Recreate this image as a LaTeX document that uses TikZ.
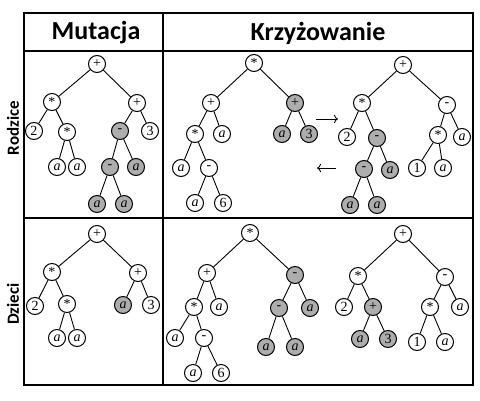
\documentclass[tikz,border=0pt]{standalone}
\usepackage{fontspec}
\setmainfont{Liberation Serif}
\newfontfamily\headfont{Carlito}
\usetikzlibrary{arrows.meta}

\tikzset{
  op/.style={circle, draw, line width=1pt, minimum size=17pt, inner sep=0pt,
    fill=white, font=\fontsize{14}{14}\selectfont},
  hl/.style={op, fill=black!32},
  head/.style={font=\headfont\bfseries\fontsize{26}{26}\selectfont},
  side/.style={font=\headfont\bfseries\fontsize{17}{17}\selectfont, rotate=90},
  grid/.style={line width=1.4pt}
}

\begin{document}
\begin{tikzpicture}[x=1pt, y=-1pt, line width=0.9pt]
   \useasboundingbox (0,0) rectangle (480,400);

   % table
   \draw[grid] (24,13) rectangle (473,385);
   \draw[grid] (24,51) -- (473,51);
   \draw[grid] (24,218) -- (473,218);
   \draw[grid] (163,13) -- (163,385);
   \node[head] (hmut) at (96,33) {Mutacja};
   \node[head] (hkrz) at (318,33) {Krzyżowanie};
   \node[side] (rrod) at (13,128) {Rodzice};
   \node[side] (rdzi) at (13,304) {Dzieci};

   % mutacja, rodzic
   \node[op] (mr1) at (97,64) {+};
   \node[op] (mr2) at (52,102) {*};
   \node[op] (mr3) at (137,103) {+};
   \node[op] (mr4) at (34,131) {2};
   \node[op] (mr5) at (67,132) {*};
   \node[hl] (mr6) at (120,131) {-};
   \node[op] (mr7) at (150,131) {3};
   \node[op] (mr8) at (57,167) {\textit{a}};
   \node[op] (mr9) at (77,167) {\textit{a}};
   \node[hl] (mr10) at (110,167) {-};
   \node[hl] (mr11) at (136,167) {\textit{a}};
   \node[hl] (mr12) at (97,204) {\textit{a}};
   \node[hl] (mr13) at (124,204) {\textit{a}};
   \draw (mr1) edge (mr2) edge (mr3);
   \draw (mr2) edge (mr4) edge (mr5);
   \draw (mr5) edge (mr8) edge (mr9);
   \draw (mr3) edge (mr6) edge (mr7);
   \draw (mr6) edge (mr10) edge (mr11);
   \draw (mr10) edge (mr12) edge (mr13);

   % krzyzowanie, rodzic 1
   \node[op] (ka1) at (254,63) {*};
   \node[op] (ka2) at (211,103) {+};
   \node[hl] (ka3) at (295,103) {+};
   \node[op] (ka4) at (195,134) {*};
   \node[op] (ka5) at (222,134) {\textit{a}};
   \node[hl] (ka6) at (282,134) {\textit{a}};
   \node[hl] (ka7) at (309,134) {3};
   \node[op] (ka8) at (181,168) {\textit{a}};
   \node[op] (ka9) at (209,168) {-};
   \node[op] (ka10) at (195,203) {\textit{a}};
   \node[op] (ka11) at (223,203) {6};
   \draw (ka1) edge (ka2) edge (ka3);
   \draw (ka2) edge (ka4) edge (ka5);
   \draw (ka3) edge (ka6) edge (ka7);
   \draw (ka4) edge (ka8) edge (ka9);
   \draw (ka9) edge (ka10) edge (ka11);

   % krzyzowanie, rodzic 2
   \node[op] (kb1) at (403,65) {+};
   \node[op] (kb2) at (362,103) {*};
   \node[op] (kb3) at (447,105) {-};
   \node[op] (kb4) at (347,137) {2};
   \node[hl] (kb5) at (377,138) {-};
   \node[op] (kb6) at (438,135) {*};
   \node[op] (kb7) at (462,137) {\textit{a}};
   \node[hl] (kb8) at (364,169) {-};
   \node[hl] (kb9) at (390,170) {\textit{a}};
   \node[op] (kb10) at (417,168) {1};
   \node[op] (kb11) at (443,168) {\textit{a}};
   \node[hl] (kb12) at (350,205) {\textit{a}};
   \node[hl] (kb13) at (377,205) {\textit{a}};
   \draw (kb1) edge (kb2) edge (kb3);
   \draw (kb2) edge (kb4) edge (kb5);
   \draw (kb3) edge (kb6) edge (kb7);
   \draw (kb5) edge (kb8) edge (kb9);
   \draw (kb6) edge (kb10) edge (kb11);
   \draw (kb8) edge (kb12) edge (kb13);

   % swap arrows
   \coordinate (sw1) at (316,119);
   \coordinate (sw2) at (338,119);
   \coordinate (sw3) at (336,168);
   \coordinate (sw4) at (317,168);
   \draw[-{To[length=4pt]}] (sw1) -- (sw2);
   \draw[-{To[length=4pt]}] (sw3) -- (sw4);

   % mutacja, dziecko
   \node[op] (mc1) at (97,234) {+};
   \node[op] (mc2) at (52,272) {*};
   \node[op] (mc3) at (138,273) {+};
   \node[op] (mc4) at (35,306) {2};
   \node[op] (mc5) at (67,304) {*};
   \node[hl] (mc6) at (123,305) {\textit{a}};
   \node[op] (mc7) at (151,305) {3};
   \node[op] (mc8) at (57,338) {\textit{a}};
   \node[op] (mc9) at (77,338) {\textit{a}};
   \draw (mc1) edge (mc2) edge (mc3);
   \draw (mc2) edge (mc4) edge (mc5);
   \draw (mc3) edge (mc6) edge (mc7);
   \draw (mc5) edge (mc8) edge (mc9);

   % krzyzowanie, dziecko 1
   \node[op] (kc1) at (250,233) {*};
   \node[op] (kc2) at (207,273) {+};
   \node[hl] (kc3) at (295,275) {-};
   \node[op] (kc4) at (194,307) {*};
   \node[op] (kc5) at (219,307) {\textit{a}};
   \node[hl] (kc6) at (279,308) {-};
   \node[hl] (kc7) at (310,308) {\textit{a}};
   \node[op] (kc8) at (175,338) {\textit{a}};
   \node[op] (kc9) at (204,338) {-};
   \node[hl] (kc10) at (266,347) {\textit{a}};
   \node[hl] (kc11) at (295,347) {\textit{a}};
   \node[op] (kc12) at (193,373) {\textit{a}};
   \node[op] (kc13) at (221,373) {6};
   \draw (kc1) edge (kc2) edge (kc3);
   \draw (kc2) edge (kc4) edge (kc5);
   \draw (kc3) edge (kc6) edge (kc7);
   \draw (kc4) edge (kc8) edge (kc9);
   \draw (kc6) edge (kc10) edge (kc11);
   \draw (kc9) edge (kc12) edge (kc13);

   % krzyzowanie, dziecko 2
   \node[op] (kd1) at (403,234) {+};
   \node[op] (kd2) at (358,276) {*};
   \node[op] (kd3) at (445,277) {-};
   \node[op] (kd4) at (344,307) {2};
   \node[hl] (kd5) at (373,307) {+};
   \node[op] (kd6) at (430,307) {*};
   \node[op] (kd7) at (460,307) {\textit{a}};
   \node[hl] (kd8) at (360,339) {\textit{a}};
   \node[hl] (kd9) at (388,339) {3};
   \node[op] (kd10) at (417,342) {1};
   \node[op] (kd11) at (445,342) {\textit{a}};
   \draw (kd1) edge (kd2) edge (kd3);
   \draw (kd2) edge (kd4) edge (kd5);
   \draw (kd3) edge (kd6) edge (kd7);
   \draw (kd5) edge (kd8) edge (kd9);
   \draw (kd6) edge (kd10) edge (kd11);
\end{tikzpicture}
\end{document}
